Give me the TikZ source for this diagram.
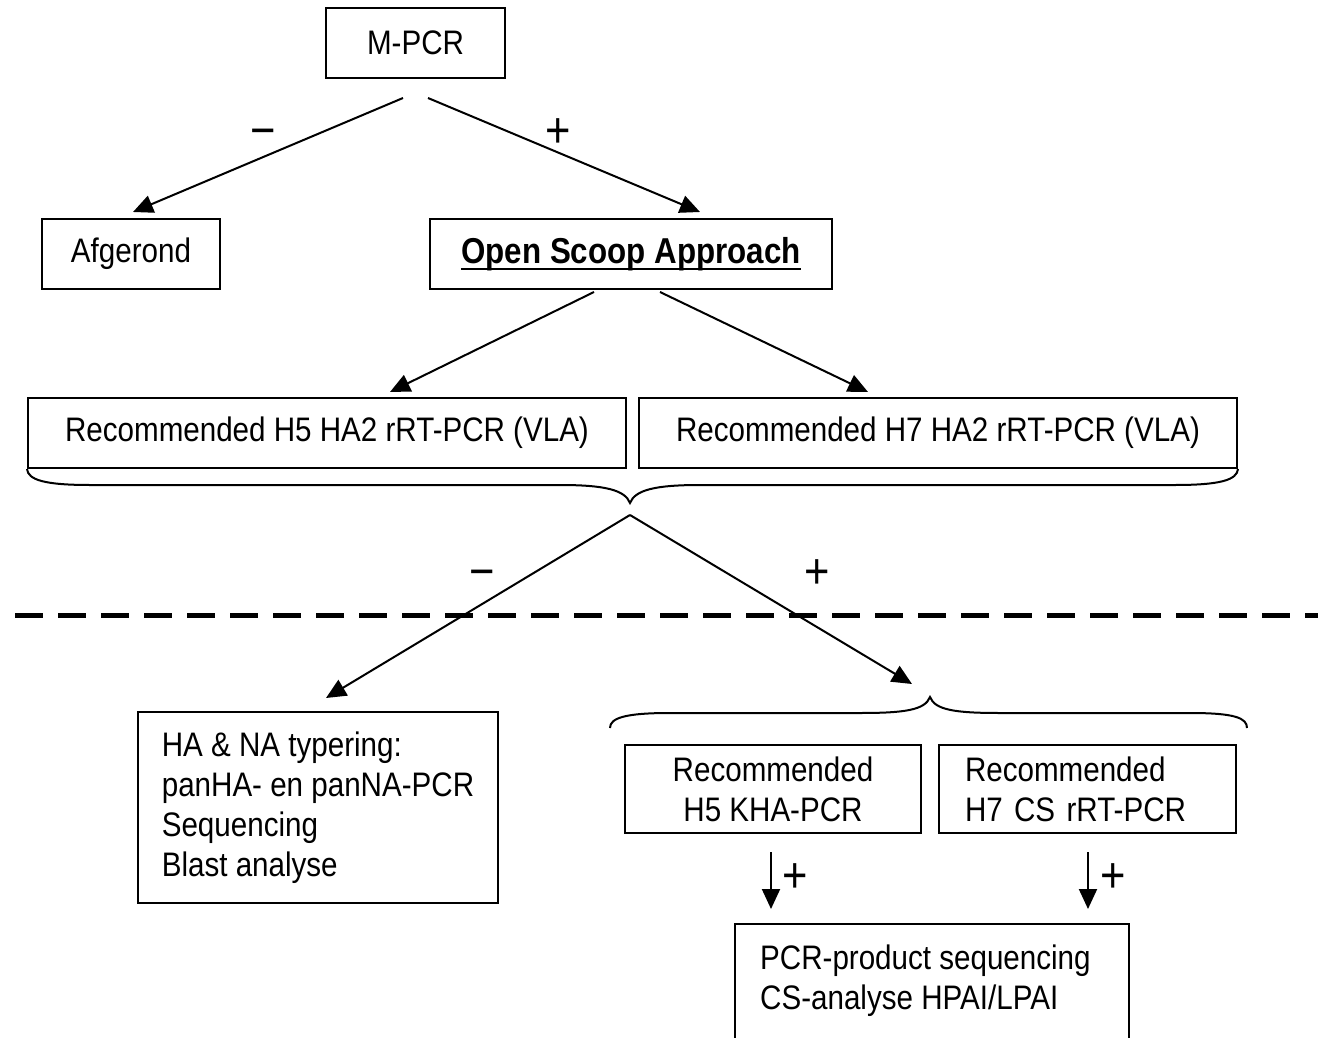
\documentclass[tikz,border=0pt]{standalone}
\usepackage{fontspec}
\setmainfont{Liberation Sans}[FakeStretch=0.87]
\usetikzlibrary{arrows.meta}
\newcommand\myfs{\fontsize{34}{40}\selectfont}
\newcommand\mybf{\fontsize{36}{40}\selectfont\bfseries}
\newcommand\myul[1]{\setbox0\hbox{#1}\rlap{\vrule height -4.5pt depth 7pt width \wd0}\box0}
\begin{document}
\begin{tikzpicture}[x=1pt,y=-1pt,
  box/.style={draw, line width=2pt, inner sep=0pt, font=\myfs},
  txt/.style={inner sep=0pt, font=\myfs},
  sign/.style={inner sep=0pt, font=\fontsize{50}{50}\selectfont},
  arr/.style={line width=2pt, -{Triangle[length=20pt,width=18pt]}},
  brace/.style={line width=2pt},
  sep/.style={line width=5pt, dash pattern=on 28pt off 15pt}]
\useasboundingbox (0,0) rectangle (1318,1038);
\clip (0,0) rectangle (1318,1038);
\fill[white] (0,0) rectangle (1318,1038);

% boxes
\node[box, minimum width=179, minimum height=70] (mpcr) at (415.5,43) {M-PCR};
\node[box, minimum width=178, minimum height=70] (afg) at (131,254) {Afgerond};
\node[box, minimum width=402, minimum height=70, font=\mybf] (osa) at (631,254) {\myul{Open Scoop Approach}};
\node[box, minimum width=598, minimum height=70] (h5) at (327,433) {Recommended H5 HA2 rRT-PCR (VLA)};
\node[box, minimum width=598, minimum height=70] (h7) at (938,433) {Recommended H7 HA2 rRT-PCR (VLA)};
\node[box, minimum width=360, minimum height=191, align=left] (hana) at (318,807.5)
  {HA \& NA typering:\\panHA- en panNA-PCR\\Sequencing\\Blast analyse};
\node[box, minimum width=296, minimum height=88, align=center] (kha) at (773,789)
  {Recommended\\H5 KHA-PCR};
\node[box, text width=245pt, inner xsep=26pt, minimum height=88, align=left] (cs) at (1087.5,789)
  {Recommended\\H7 CS rRT-PCR};
\node[box, minimum width=394, minimum height=140, anchor=north] (pcr) at (932,923) {};
\node[txt, anchor=north west, align=left] (pcrtxt) at (760,945)
  {PCR-product sequencing\\CS-analyse HPAI/LPAI};

% coordinates for connector ends
\coordinate (m1) at (403,98);
\coordinate (m2) at (428,98);
\coordinate (afgt) at (133,212);
\coordinate (osat) at (700,212);
\coordinate (o1) at (594,292);
\coordinate (o2) at (660,292);
\coordinate (h5t) at (390,392);
\coordinate (h7t) at (868,392);
\coordinate (bc) at (630,515);
\coordinate (hanat) at (326,698);
\coordinate (rt) at (912,684);
\coordinate (k1) at (771,852);
\coordinate (k2) at (771,909);
\coordinate (c1) at (1088,852);
\coordinate (c2) at (1088,909);

% arrows
\draw[arr] (m1) -- (afgt);
\draw[arr] (m2) -- (osat);
\draw[arr] (o1) -- (h5t);
\draw[arr] (o2) -- (h7t);
\draw[arr] (bc) -- (hanat);
\draw[arr] (bc) -- (rt);
\draw[arr] (k1) -- (k2);
\draw[arr] (c1) -- (c2);

% signs
\node[sign] (s1) at (263,138) {−};
\node[sign] (s2) at (558,133) {+};
\node[sign] (s3) at (482,579) {−};
\node[sign] (s4) at (817,574) {+};
\node[sign] (s5) at (795,878) {+};
\node[sign] (s6) at (1113,878) {+};

% upper brace
\draw[brace] (h5.south west) .. controls (28,480) and (45,485) .. (90,485) -- (560,485)
  .. controls (605,485) and (625,490) .. (630,503)
  .. controls (635,490) and (655,485) .. (700,485) -- (1175,485)
  .. controls (1220,485) and (1237,480) .. (h7.south east);

% lower brace
\draw[brace] (610,728) .. controls (610,718) and (625,713) .. (670,713) -- (860,713)
  .. controls (905,713) and (925,710) .. (930,697)
  .. controls (935,710) and (955,713) .. (1000,713) -- (1190,713)
  .. controls (1235,713) and (1247,718) .. (1247,728);

% separator
\draw[sep] (15,615) -- (1318,615);
\end{tikzpicture}
\end{document}
